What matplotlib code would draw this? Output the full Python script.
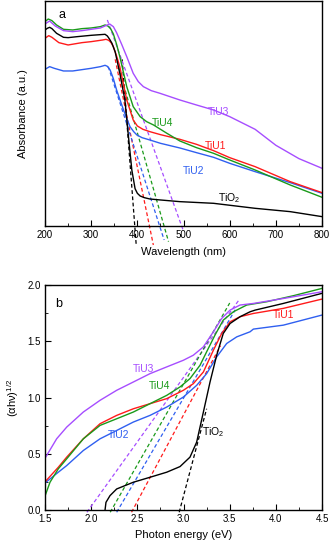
import matplotlib
matplotlib.use("Agg")
from matplotlib import pyplot as plt
from matplotlib.ticker import MultipleLocator
import numpy as np

plt.rcParams['font.family'] = ['Liberation Sans', 'DejaVu Sans']
plt.rcParams['font.size'] = 7
plt.rcParams['mathtext.default'] = 'regular'

c_tio2 = 'black'
c_tiu1 = '#ff1a1a'
c_tiu2 = '#2f5ff0'
c_tiu3 = '#a64dff'
c_tiu4 = '#1a9a1a'

# ---- panel a: absorbance vs wavelength (arbitrary units) ----
wl_tio2 = [200, 205, 210, 215, 225, 240, 250, 270, 300, 320, 330, 335, 340, 345, 352, 362, 373, 380, 388, 395, 400, 406, 415, 427, 450, 492, 565, 655, 731, 800]
ab_tio2 = [5.88, 5.93, 5.96, 5.92, 5.78, 5.66, 5.65, 5.68, 5.72, 5.74, 5.75, 5.70, 5.60, 5.48, 5.22, 4.58, 3.78, 2.78, 1.68, 1.12, 0.98, 0.90, 0.85, 0.81, 0.78, 0.73, 0.68, 0.53, 0.43, 0.28]

wl_tiu1 = [200, 208, 215, 230, 250, 280, 300, 325, 332, 338, 343, 348, 355, 362, 377, 391, 400, 412, 427, 450, 492, 528, 565, 600, 655, 731, 800]
ab_tiu1 = [5.63, 5.71, 5.66, 5.50, 5.43, 5.50, 5.53, 5.58, 5.60, 5.57, 5.50, 5.38, 5.10, 4.78, 3.78, 3.18, 3.00, 2.90, 2.83, 2.74, 2.60, 2.45, 2.26, 2.05, 1.78, 1.33, 1.00]

wl_tiu2 = [200, 210, 220, 240, 260, 300, 320, 330, 335, 341, 348, 355, 370, 384, 392, 399, 410, 427, 450, 492, 528, 565, 600, 655, 731, 800]
ab_tiu2 = [4.70, 4.78, 4.73, 4.65, 4.65, 4.73, 4.78, 4.82, 4.79, 4.68, 4.42, 4.08, 3.48, 2.98, 2.83, 2.73, 2.65, 2.58, 2.48, 2.34, 2.20, 2.06, 1.88, 1.63, 1.30, 0.98]

wl_tiu3 = [200, 210, 222, 240, 260, 280, 300, 320, 330, 340, 348, 355, 366, 377, 391, 402, 413, 430, 449, 492, 528, 565, 600, 655, 700, 750, 800]
ab_tiu3 = [6.06, 6.15, 6.00, 5.86, 5.83, 5.86, 5.90, 5.94, 6.00, 6.06, 5.98, 5.80, 5.45, 5.08, 4.58, 4.33, 4.18, 4.06, 3.98, 3.78, 3.63, 3.48, 3.28, 2.90, 2.42, 2.02, 1.73]

wl_tiu4 = [200, 207, 215, 225, 240, 260, 280, 300, 320, 330, 336, 342, 348, 355, 362, 377, 391, 406, 420, 435, 464, 492, 528, 565, 600, 655, 731, 800]
ab_tiu4 = [6.13, 6.21, 6.16, 6.03, 5.90, 5.88, 5.92, 5.94, 5.98, 6.03, 6.00, 5.92, 5.76, 5.45, 5.08, 4.18, 3.58, 3.28, 3.13, 3.03, 2.78, 2.55, 2.35, 2.18, 1.98, 1.68, 1.23, 0.86]

# tangent lines (start / end points)
tan_a_wl = {'TiO2': [367, 397.5], 'TiU1': [352, 434.6], 'TiU2': [337, 458], 'TiU3': [335, 499], 'TiU4': [359, 467.5]}
tan_a_ab = {'TiO2': [5.0, -0.57], 'TiU1': [5.0, -0.57], 'TiU2': [4.78, -0.42], 'TiU3': [6.18, -0.12], 'TiU4': [4.78, -0.47]}

# ---- panel b: Tauc plot ----
e_tio2 = [2.15, 2.16, 2.204, 2.276, 2.457, 2.637, 2.818, 2.962, 3.07, 3.142, 3.215, 3.287, 3.359, 3.43, 3.504, 3.612, 3.72, 3.776, 4.08, 4.5]
t_tio2 = [0.0, 0.068, 0.128, 0.187, 0.247, 0.291, 0.336, 0.386, 0.47, 0.603, 0.871, 1.138, 1.376, 1.569, 1.658, 1.718, 1.762, 1.777, 1.836, 1.926]

e_tiu1 = [1.5, 1.644, 1.735, 1.915, 2.096, 2.276, 2.457, 2.637, 2.818, 2.998, 3.106, 3.215, 3.323, 3.413, 3.504, 3.612, 3.756, 4.08, 4.5]
t_tiu1 = [0.25, 0.38, 0.47, 0.633, 0.767, 0.841, 0.9, 0.945, 0.99, 1.064, 1.123, 1.227, 1.42, 1.569, 1.673, 1.718, 1.747, 1.792, 1.875]

e_tiu2 = [1.5, 1.644, 1.735, 1.915, 2.096, 2.276, 2.457, 2.637, 2.818, 2.998, 3.142, 3.25, 3.359, 3.467, 3.576, 3.72, 3.756, 4.08, 4.5]
t_tiu2 = [0.24, 0.336, 0.395, 0.529, 0.633, 0.707, 0.782, 0.841, 0.915, 1.004, 1.108, 1.212, 1.361, 1.48, 1.539, 1.584, 1.608, 1.643, 1.733]

e_tiu3 = [1.5, 1.626, 1.735, 1.915, 2.096, 2.276, 2.457, 2.637, 2.818, 2.998, 3.106, 3.215, 3.323, 3.413, 3.504, 3.612, 3.756, 4.08, 4.5]
t_tiu3 = [0.46, 0.633, 0.737, 0.871, 0.975, 1.064, 1.138, 1.212, 1.272, 1.331, 1.376, 1.45, 1.584, 1.703, 1.777, 1.822, 1.836, 1.88, 1.94]

e_tiu4 = [1.5, 1.554, 1.644, 1.735, 1.915, 2.096, 2.276, 2.457, 2.637, 2.818, 2.962, 3.07, 3.179, 3.25, 3.34, 3.43, 3.54, 3.684, 3.9, 4.19, 4.5]
t_tiu4 = [0.124, 0.247, 0.366, 0.455, 0.633, 0.752, 0.811, 0.871, 0.945, 1.019, 1.094, 1.168, 1.287, 1.406, 1.554, 1.688, 1.762, 1.822, 1.851, 1.905, 1.97]

tan_b_e = {'TiO2': [2.953, 3.25], 'TiU1': [2.437, 3.4], 'TiU2': [2.276, 3.56], 'TiU3': [1.954, 3.594], 'TiU4': [2.206, 3.5]}
tan_b_t = {'TiO2': [-0.02, 0.90], 'TiU1': [-0.02, 1.46], 'TiU2': [-0.02, 1.78], 'TiU3': [-0.02, 1.86], 'TiU4': [-0.02, 1.84]}

colors = {'TiO2': c_tio2, 'TiU1': c_tiu1, 'TiU2': c_tiu2, 'TiU3': c_tiu3, 'TiU4': c_tiu4}

fig = plt.figure(figsize=(3.31, 5.44), dpi=100)
ax1 = fig.add_axes([0.136, 0.5846, 0.837, 0.4136])
ax2 = fig.add_axes([0.136, 0.0625, 0.837, 0.4136])

dash = (0, (3, 2))
lw = 1.0

for k in tan_a_wl:
    ax1.plot(tan_a_wl[k], tan_a_ab[k], color=colors[k], lw=0.9, ls=dash, clip_on=False)
ax1.plot(wl_tiu2, ab_tiu2, color=c_tiu2, lw=lw)
ax1.plot(wl_tiu1, ab_tiu1, color=c_tiu1, lw=lw)
ax1.plot(wl_tio2, ab_tio2, color=c_tio2, lw=lw)
ax1.plot(wl_tiu4, ab_tiu4, color=c_tiu4, lw=lw)
ax1.plot(wl_tiu3, ab_tiu3, color=c_tiu3, lw=lw)

ax1.set_xlim(200, 800)
ax1.set_ylim(0, 6.75)
ax1.xaxis.set_major_locator(MultipleLocator(100))
ax1.xaxis.set_minor_locator(MultipleLocator(50))
ax1.set_yticks([])
ax1.tick_params(axis='x', which='both', direction='in', labelsize=7, pad=3)
ax1.tick_params(axis='x', which='major', length=4)
ax1.tick_params(axis='x', which='minor', length=2.5)
ax1.set_xlabel('Wavelength (nm)', fontsize=8, labelpad=5)
ax1.set_ylabel('Absorbance (a.u.)', fontsize=8, labelpad=12)
ax1.text(237, 6.33, 'a', fontsize=9, ha='center', va='center')
ax1.text(575, 3.41, 'TiU3', color=c_tiu3, fontsize=7.5, ha='center', va='center')
ax1.text(454, 3.10, 'TiU4', color=c_tiu4, fontsize=7.5, ha='center', va='center')
ax1.text(570, 2.41, 'TiU1', color=c_tiu1, fontsize=7.5, ha='center', va='center')
ax1.text(521, 1.66, 'TiU2', color=c_tiu2, fontsize=7.5, ha='center', va='center')
ax1.text(599, 0.83, 'TiO$_2$', color=c_tio2, fontsize=7.5, ha='center', va='center')

for k in tan_b_e:
    ax2.plot(tan_b_e[k], tan_b_t[k], color=colors[k], lw=0.9, ls=dash, clip_on=False)
ax2.plot(e_tiu2, t_tiu2, color=c_tiu2, lw=lw)
ax2.plot(e_tiu1, t_tiu1, color=c_tiu1, lw=lw)
ax2.plot(e_tio2, t_tio2, color=c_tio2, lw=lw)
ax2.plot(e_tiu4, t_tiu4, color=c_tiu4, lw=lw)
ax2.plot(e_tiu3, t_tiu3, color=c_tiu3, lw=lw)

ax2.set_xlim(1.5, 4.5)
ax2.set_ylim(0, 2.0)
ax2.xaxis.set_major_locator(MultipleLocator(0.5))
ax2.xaxis.set_minor_locator(MultipleLocator(0.25))
ax2.yaxis.set_major_locator(MultipleLocator(0.5))
ax2.yaxis.set_minor_locator(MultipleLocator(0.25))
ax2.tick_params(which='both', direction='in', labelsize=7, pad=3)
ax2.tick_params(which='major', length=4)
ax2.tick_params(which='minor', length=2.5)
ax2.set_xlabel('Photon energy (eV)', fontsize=8, labelpad=4)
ax2.set_ylabel('(αhν)$^{1/2}$', fontsize=8, labelpad=5)
ax2.text(1.644, 1.834, 'b', fontsize=9, ha='center', va='center')
ax2.text(4.08, 1.73, 'TiU1', color=c_tiu1, fontsize=7.5, ha='center', va='center')
ax2.text(2.565, 1.256, 'TiU3', color=c_tiu3, fontsize=7.5, ha='center', va='center')
ax2.text(2.745, 1.10, 'TiU4', color=c_tiu4, fontsize=7.5, ha='center', va='center')
ax2.text(2.294, 0.664, 'TiU2', color=c_tiu2, fontsize=7.5, ha='center', va='center')
ax2.text(3.323, 0.693, 'TiO$_2$', color=c_tio2, fontsize=7.5, ha='center', va='center')

for ax in (ax1, ax2):
    for s in ax.spines.values():
        s.set_linewidth(1.0)

fig.savefig('out.png', dpi=100)
